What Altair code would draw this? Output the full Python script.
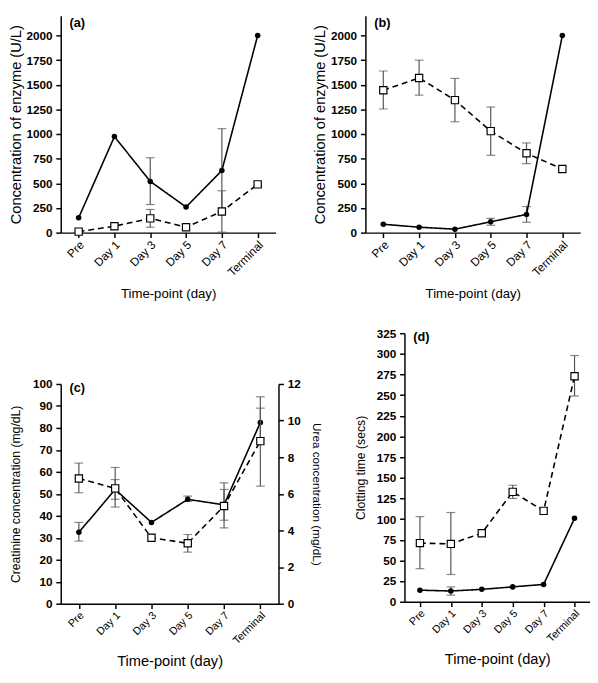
import altair as alt
import pandas as pd

cats = ["Pre", "Day 1", "Day 3", "Day 5", "Day 7", "Terminal"]

# Panel (a)
a_solid = [150, 975, 520, 260, 630, 2000]
a_solid_lo = [None, None, 285, None, 205, None]
a_solid_hi = [None, None, 760, None, 1055, None]
a_dash = [10, 65, 145, 55, 215, 490]
a_dash_lo = [None, None, 55, None, 5, 470]
a_dash_hi = [None, None, 235, None, 425, 515]

# Panel (b)
b_dash = [1445, 1570, 1345, 1030, 805, 645]
b_dash_lo = [1255, 1395, 1125, 785, 700, None]
b_dash_hi = [1640, 1750, 1565, 1275, 910, None]
b_solid = [85, 55, 35, 110, 185, 2000]
b_solid_lo = [None, None, None, 75, 105, None]
b_solid_hi = [None, None, None, 145, 265, None]

# Panel (c): creatinine (left axis) and urea (right axis)
c_crea = [32.5, 52, 37, 47.5, 45, 82.5]
c_crea_lo = [28.5, 47.5, None, 46.5, 38, 75.5]
c_crea_hi = [37, 56.5, None, 49, 52, 89]
c_urea = [6.84, 6.3, 3.6, 3.3, 5.34, 8.88]
c_urea_lo = [6.06, 5.28, None, 2.82, 4.14, 6.42]
c_urea_hi = [7.68, 7.44, None, 3.78, 6.6, 11.3]

# Panel (d)
d_dash = [71, 70, 83, 133, 110, 273]
d_dash_lo = [40, 33, None, 125, None, 249]
d_dash_hi = [103, 108, None, 141, None, 298]
d_solid = [14, 13, 15, 18, 21, 101]
d_solid_lo = [None, 8, None, None, None, None]
d_solid_hi = [None, 18, None, None, None, None]

FONT = "Liberation Sans"
ERR = "#555555"


def mkdf(v, lo, hi):
    return pd.DataFrame({"t": cats, "v": v, "lo": lo, "hi": hi})


def xenc(lab_size, title_size, tpad):
    return alt.X(
        "t:N", sort=cats,
        scale=alt.Scale(type="point", padding=0.5, domain=cats),
        axis=alt.Axis(title="Time-point (day)", labelAngle=-45, labelAlign="right",
                      labelBaseline="middle", labelPadding=5, labelOffset=3,
                      titlePadding=tpad, labelFontWeight="normal",
                      labelFontSize=lab_size, titleFontSize=title_size),
    )


def series(df, dom, dashed, square, axis, xe):
    sc = alt.Scale(domain=dom, nice=False, zero=True)
    base = alt.Chart(df).encode(x=xe)
    errdf = base.transform_filter("datum.lo != null")
    rule = errdf.mark_rule(color=ERR, strokeWidth=1.2).encode(
        y=alt.Y("lo:Q", scale=sc, axis=axis), y2="hi:Q")
    cap1 = errdf.mark_tick(color=ERR, size=9, thickness=1.2, orient="horizontal").encode(
        y=alt.Y("lo:Q", scale=sc, axis=axis))
    cap2 = errdf.mark_tick(color=ERR, size=9, thickness=1.2, orient="horizontal").encode(
        y=alt.Y("hi:Q", scale=sc, axis=axis))
    line = base.mark_line(color="black", strokeWidth=1.6,
                          strokeDash=[6, 4] if dashed else [1, 0]).encode(
        y=alt.Y("v:Q", scale=sc, axis=axis))
    if square:
        pt = base.mark_point(shape="square", size=55, filled=True, fill="white",
                             stroke="black", strokeWidth=1.2, opacity=1).encode(
            y=alt.Y("v:Q", scale=sc, axis=axis))
    else:
        pt = base.mark_point(shape="circle", size=32, filled=True, color="black",
                             opacity=1).encode(y=alt.Y("v:Q", scale=sc, axis=axis))
    return [rule, cap1, cap2], line, pt


def label(txt, y):
    return alt.Chart(pd.DataFrame({"l": [txt]})).mark_text(
        font=FONT, fontSize=13, fontWeight="bold", align="left", baseline="middle"
    ).encode(x=alt.value(9), y=alt.value(y), text="l:N")


def yaxis(title, values, lab_size, title_size, tpad, orient="left"):
    return alt.Axis(title=title, values=values, orient=orient, titlePadding=tpad,
                    format="d", labelFontSize=lab_size, titleFontSize=title_size,
                    labelPadding=4, tickSize=5)


def panel(s1, s2, lab, ly, w, h):
    e1, l1, p1 = s1
    e2, l2, p2 = s2
    return alt.layer(*e1, *e2, l1, l2, p1, p2, label(lab, ly)).properties(width=w, height=h)


ticks_ab = list(range(0, 2001, 250))
ax_ab = yaxis("Concentration of enzyme (U/L)", ticks_ab, 12, 15, 3)
x_top = xenc(12, 13.5, 9)
x_bot = xenc(11, 15, 8)

# (a)
a1 = series(mkdf(a_dash, a_dash_lo, a_dash_hi), [0, 2200], True, True, ax_ab, x_top)
a2 = series(mkdf(a_solid, a_solid_lo, a_solid_hi), [0, 2200], False, False, ax_ab, x_top)
pa = panel(a1, a2, "(a)", 7, 220, 222)

# (b)
b1 = series(mkdf(b_dash, b_dash_lo, b_dash_hi), [0, 2200], True, True, ax_ab, x_top)
b2 = series(mkdf(b_solid, b_solid_lo, b_solid_hi), [0, 2200], False, False, ax_ab, x_top)
pb = panel(b1, b2, "(b)", 7, 220, 222)

# (c)
c1 = series(mkdf(c_crea, c_crea_lo, c_crea_hi), [0, 100], False, False,
            yaxis("Creatinine concentration (mg/dL)", list(range(0, 101, 10)), 12, 12.5, 10),
            x_bot)
c2 = series(mkdf(c_urea, c_urea_lo, c_urea_hi), [0, 12], True, True,
            yaxis("Urea concentration (mg/dL)", list(range(0, 13, 2)), 12, 12, 9,
                  orient="right"),
            x_bot)
crea_layer = alt.layer(*c1[0], c1[1], c1[2], label("(c)", 4))
urea_layer = alt.layer(*c2[0], c2[1], c2[2])
pc = alt.layer(crea_layer, urea_layer).resolve_scale(y="independent").properties(
    width=223, height=225)

spacer = alt.Chart(pd.DataFrame({"s": [0]})).mark_point(opacity=0).encode(
    x=alt.value(0), y=alt.value(0)).properties(width=223, height=46)
pc_col = alt.vconcat(spacer, pc, spacing=0)

# (d)
ax_d = yaxis("Clotting time (secs)", list(range(0, 326, 25)), 12, 12.5, 9)
d1 = series(mkdf(d_dash, d_dash_lo, d_dash_hi), [0, 325], True, True, ax_d, x_bot)
d2 = series(mkdf(d_solid, d_solid_lo, d_solid_hi), [0, 325], False, False, ax_d, x_bot)
pd_ = panel(d1, d2, "(d)", 4, 190, 275)

top = alt.hconcat(pa, pb, spacing=38)
bottom = alt.hconcat(pc_col, pd_, spacing=32)
chart = alt.vconcat(top, bottom, spacing=28).properties(
    padding=0, background="white"
).configure_view(
    stroke=None
).configure_axis(
    grid=False, domainColor="black", domainWidth=1.5, tickColor="black", tickWidth=1.5,
    tickSize=5, labelFont=FONT, labelFontSize=11, labelFontWeight="bold", labelColor="black",
    titleFont=FONT, titleFontSize=13, titleFontWeight="normal", titleColor="black",
)

chart.save("out.html", embed_options={"renderer": "svg", "actions": False})
